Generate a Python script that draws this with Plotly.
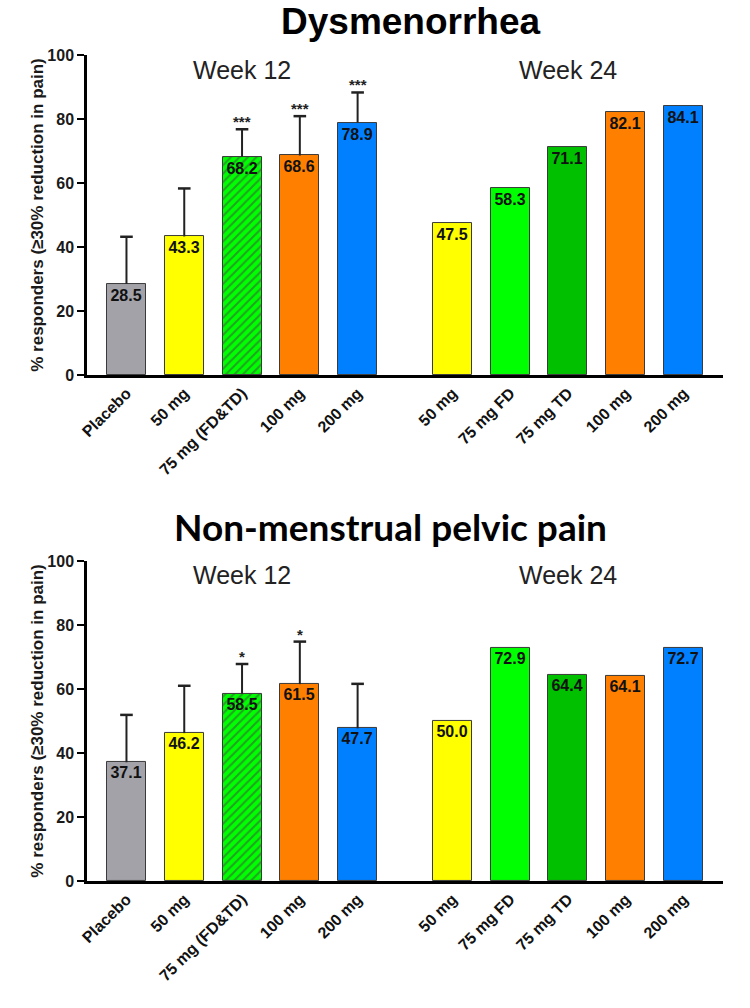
import plotly.graph_objects as go

# ---------------- data ----------------
cats_w12 = ["Placebo", "50 mg", "75 mg (FD&TD)", "100 mg", "200 mg"]
cats_w24 = ["50 mg", "75 mg FD", "75 mg TD", "100 mg", "200 mg"]

dys_w12 = [28.5, 43.3, 68.2, 68.6, 78.9]
dys_w12_err = [14.7, 15.0, 8.6, 12.3, 9.4]
dys_w12_sig = ["", "", "***", "***", "***"]
dys_w24 = [47.5, 58.3, 71.1, 82.1, 84.1]

pel_w12 = [37.1, 46.2, 58.5, 61.5, 47.7]
pel_w12_err = [14.8, 14.8, 9.3, 13.3, 13.9]
pel_w12_sig = ["", "", "*", "*", ""]
pel_w24 = [50.0, 72.9, 64.4, 64.1, 72.7]

titles = ["Dysmenorrhea", "Non-menstrual pelvic pain"]
week_labels = ["Week 12", "Week 24"]
y_title = "% responders (≥30% reduction in pain)"

# ---------------- styles ----------------
colors_w12 = ["#a2a2a8", "#ffff00", "#00ff00", "#ff8000", "#0080ff"]
colors_w24 = ["#ffff00", "#00ff00", "#00c000", "#ff8000", "#0080ff"]
patterns_w12 = ["", "", "/", "", ""]

ARIAL = "Liberation Sans, Arial, sans-serif"
GROUP_GAP = 5.64
BAR_W = 0.675
X_RANGE = [-0.683, 4 + GROUP_GAP + 0.683]

x12 = list(range(len(cats_w12)))
x24 = [i + GROUP_GAP for i in range(len(cats_w24))]

fig = go.Figure()

charts = [
    dict(w12=dys_w12, err=dys_w12_err, sig=dys_w12_sig, w24=dys_w24,
         xa="x", ya="y", ydom=[0.6280, 0.9454], title_y=0.979, week_y=0.9306,
         title_font=dict(family=ARIAL, size=37, color="#000", weight="bold"), title_x=0.548),
    dict(w12=pel_w12, err=pel_w12_err, sig=pel_w12_sig, w24=pel_w24,
         xa="x2", ya="y2", ydom=[0.1260, 0.4435], title_y=0.4772, week_y=0.4296,
         title_font=dict(family="Lato, Open Sans, sans-serif", size=37, color="#000", weight="bold"), title_x=0.52),
]

bar_text_font = dict(family=ARIAL, size=16, color="#111", weight="bold")

for ci, c in enumerate(charts):
    fig.add_trace(go.Bar(
        x=x12, y=c["w12"], width=BAR_W,
        marker=dict(color=colors_w12, line=dict(color="#3a3a3a", width=1),
                    pattern=dict(shape=patterns_w12, fgcolor="#009000", size=6, solidity=0.35)),
        text=[f"{v:.1f}" for v in c["w12"]], textposition="inside", insidetextanchor="end",
        textangle=0, textfont=bar_text_font, showlegend=False, hoverinfo="skip",
        xaxis=c["xa"], yaxis=c["ya"],
    ))
    fig.add_trace(go.Bar(
        x=x24, y=c["w24"], width=BAR_W,
        marker=dict(color=colors_w24, line=dict(color="#3a3a3a", width=1)),
        text=[f"{v:.1f}" for v in c["w24"]], textposition="inside", insidetextanchor="end",
        textangle=0, textfont=bar_text_font, showlegend=False, hoverinfo="skip",
        xaxis=c["xa"], yaxis=c["ya"],
    ))
    # upper-only error bars: cap marker at the top, stem drawn down to the bar top
    tops = [v + e for v, e in zip(c["w12"], c["err"])]
    fig.add_trace(go.Scatter(
        x=x12, y=tops, mode="markers",
        marker=dict(symbol="line-ew", size=9, line=dict(width=2.5, color="#222")),
        error_y=dict(type="data", symmetric=False, array=[0] * len(tops),
                     arrayminus=c["err"], width=0, thickness=2, color="#222"),
        showlegend=False, hoverinfo="skip", xaxis=c["xa"], yaxis=c["ya"],
    ))
    # significance stars
    for xi, t, s in zip(x12, tops, c["sig"]):
        if s:
            fig.add_annotation(x=xi, y=t, xref=c["xa"], yref=c["ya"], text=s,
                               showarrow=False, yanchor="bottom", yshift=-3,
                               font=dict(family=ARIAL, size=15, color="#222", weight="bold"))
    # week labels
    fig.add_annotation(x=x12[2], y=c["week_y"], xref=c["xa"], yref="paper", text=week_labels[0],
                       showarrow=False, yanchor="middle",
                       font=dict(family=ARIAL, size=25, color="#222"))
    fig.add_annotation(x=x24[2], y=c["week_y"], xref=c["xa"], yref="paper", text=week_labels[1],
                       showarrow=False, yanchor="middle",
                       font=dict(family=ARIAL, size=25, color="#222"))
    # chart title
    fig.add_annotation(x=c["title_x"], y=c["title_y"], xref="paper", yref="paper", text=titles[ci],
                       showarrow=False, yanchor="middle", xanchor="center", font=c["title_font"])

xaxis_common = dict(
    domain=[0.116, 0.964], range=X_RANGE, automargin=False,
    tickmode="array", tickvals=x12 + x24, ticktext=cats_w12 + cats_w24,
    tickangle=-45, ticks="", showline=True, linecolor="#000", linewidth=2.5,
    showgrid=False, zeroline=False,
    tickfont=dict(family=ARIAL, size=16, color="#111", weight="bold"),
)
yaxis_common = dict(
    range=[0, 100], tick0=0, dtick=20, ticks="outside", ticklen=7, tickwidth=2,
    tickcolor="#000", showline=True, linecolor="#000", linewidth=2.5,
    showgrid=False, zeroline=False, automargin=False,
    tickfont=dict(family=ARIAL, size=16, color="#1a1a1a", weight="bold"),
    title=dict(text=y_title, standoff=0,
               font=dict(family=ARIAL, size=17, color="#1a1a1a", weight="bold")),
)

fig.update_layout(
    width=750, height=1008,
    margin=dict(l=0, r=0, t=0, b=0, autoexpand=False),
    paper_bgcolor="white", plot_bgcolor="white",
    bargap=0, barmode="overlay",
    xaxis=dict(**xaxis_common, anchor="y"),
    yaxis=dict(**yaxis_common, domain=charts[0]["ydom"], anchor="x"),
    xaxis2=dict(**xaxis_common, anchor="y2"),
    yaxis2=dict(**yaxis_common, domain=charts[1]["ydom"], anchor="x2"),
)

fig.write_html("out.html", config={"displayModeBar": False},
               post_script="document.body.style.margin='0';document.body.style.overflow='hidden';")
